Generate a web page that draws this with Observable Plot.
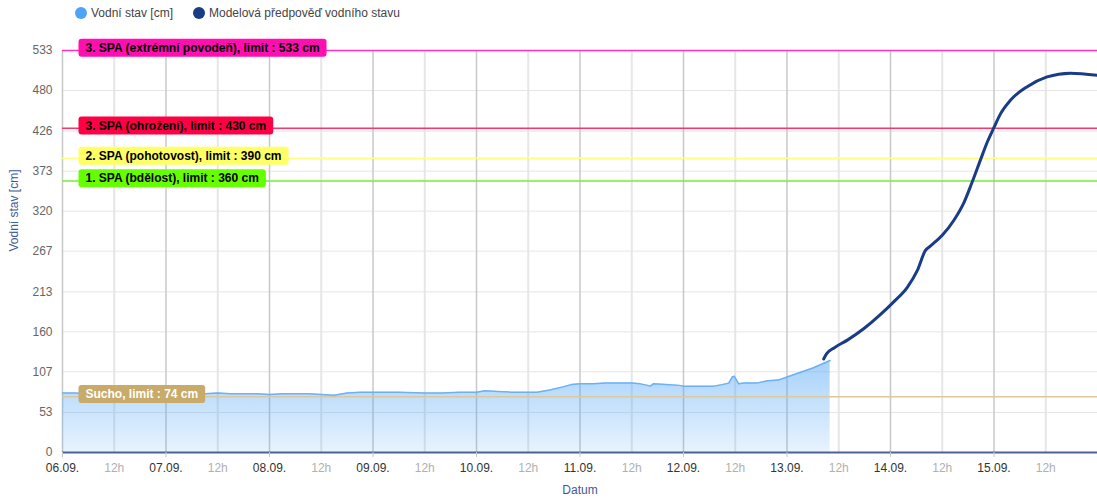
<!DOCTYPE html>
<html><head><meta charset="utf-8">
<script src="https://cdn.jsdelivr.net/npm/d3@7"></script>
<script src="https://cdn.jsdelivr.net/npm/@observablehq/plot@0.6"></script>
<style>
body{margin:0;background:#fff;font-family:"Liberation Sans",Arial,sans-serif;}
#legend{height:28px;position:relative;font-size:12px;color:#444;}
.item{position:absolute;top:6px;display:flex;align-items:center;gap:4px;white-space:nowrap;}
.dot{width:12px;height:12px;border-radius:50%;display:inline-block}
#chart svg{display:block}
</style></head><body>
<div id="legend"></div><div id="chart"></div>
<script>
// ---------- data ----------
const year = 2024;
const dayLabels = ["06.09.","07.09.","08.09.","09.09.","10.09.","11.09.","12.09.","13.09.","14.09.","15.09."];
const xDomainLabels = ["06.09.","16.09."];
const halfDayLabel = "12h";
const yTicks = [0,53,107,160,213,267,320,373,426,480,533];

// observed water level: hours since 06.09. 00:00, value in cm
const obsHours  = [0,3,6,9,12,15,18,21,24,27,30,33,36,39,42,45,48,51,54,57,60,63,66,69,72,78,84,88,92,96,98,101,104,108,110,113,116,118,120,123,126,129,132,134,135.7,136.3,137,140,143,144,148,151,153,154.5,155.3,155.8,156.3,156.8,158,161,163.5,166,168,171,174,176,178];
const obsValues = [79,79,78,78,78,77,78,77,77,76,77,78,79,78,78,78,77,78,78,78,77,76,79,80,80,80,79,79,80,80,82,81,80,80,80,83,87,90,91,91,92,92,92,91,89,88,91,90,89,88,88,88,90,92,100,101,96,91,92,92,95,96,100,106,112,117,122];

// model forecast
const fcHours  = [176.5,177.2,179,182,186,189.7,192.8,195.9,198.2,200.1,201.3,204,206.7,209,210.9,212.8,214.4,216,217.5,219.8,223.7,228.3,233.7,240];
const fcValues = [124,131,139,149,165,183,200,219,241,268,274,288,308,331,358,387,411,431,449,467,485,498,503,500];

// limits
const limitValues = [533,430,390,360,74];
const limitLabels = ["3. SPA (extrémní povodeň), limit : 533 cm","3. SPA (ohrožení), limit : 430 cm","2. SPA (pohotovost), limit : 390 cm","1. SPA (bdělost), limit : 360 cm","Sucho, limit : 74 cm"];

// ---------- styles ----------
const limitLineColors = ["#ff33b4","#ff3366","#ffff80","#77ee33","#dcc89c"];
const limitBgColors   = ["#ff0fb0","#ff0044","#ffff66","#66ff00","#c8aa6a"];
const limitTextColors = ["#000","#000","#000","#000","#fff"];
const obsColor = "#4da3f5", fcColor = "#183c86";

// ---------- build ----------
const parseDay = s => { const [d,m] = s.split(".").map(Number); return new Date(year, m-1, d); };
const start = parseDay(dayLabels[0]);
const at = h => new Date(start.getTime() + h*3600e3);
const obs = obsHours.map((h,i)=>({date: at(h), value: obsValues[i]}));
const fc  = fcHours.map((h,i)=>({date: at(h), value: fcValues[i]}));
const days = dayLabels.map(parseDay);
const halfDays = days.map(d => new Date(d.getTime() + 12*3600e3));
const limits = limitValues.map((v,i)=>({value:v, label:limitLabels[i], line:limitLineColors[i], bg:limitBgColors[i], txt:limitTextColors[i]}));
const fmtDay = d3.timeFormat("%d.%m.");

// legend
const legend = document.getElementById("legend");
[["Vodní stav [cm]", obsColor, 75],["Modelová předpověď vodního stavu", fcColor, 193]].forEach(([t,c,x])=>{
  const it = document.createElement("div"); it.className="item"; it.style.left=x+"px";
  it.innerHTML = `<span class="dot" style="background:${c}"></span><span>${t}</span>`;
  legend.appendChild(it);
});

const defs = () => {
  const g = d3.create("svg:defs");
  const lg = g.append("linearGradient").attr("id","obsFill").attr("x1",0).attr("y1",0).attr("x2",0).attr("y2",1);
  lg.append("stop").attr("offset","0%").attr("stop-color",obsColor).attr("stop-opacity",0.5);
  lg.append("stop").attr("offset","100%").attr("stop-color",obsColor).attr("stop-opacity",0.13);
  return g.node();
};

const svg = Plot.plot({
  width: 1097, height: 472,
  marginLeft: 62, marginRight: 0, marginTop: 22, marginBottom: 48,
  style: {fontFamily: "'Liberation Sans', Arial, sans-serif", fontSize: "12px", background: "#fff"},
  x: {type: "time", domain: xDomainLabels.map(parseDay)},
  y: {domain: [0, 533]},
  color: {type: "identity"},
  marks: [
    defs,
    Plot.ruleY(yTicks, {stroke: "#e6e6e6", strokeWidth: 1}),
    Plot.ruleX(halfDays, {stroke: "#e6e6e6", strokeWidth: 2}),
    Plot.ruleX(days, {stroke: "#c8c8c8", strokeWidth: 1.5}),
    Plot.areaY(obs, {x: "date", y: "value", fill: "url(#obsFill)"}),
    Plot.lineY(obs, {x: "date", y: "value", stroke: "#6cb0f7", strokeWidth: 1.5}),
    Plot.ruleY(limits, {y: "value", stroke: "line", strokeWidth: 1.5}),
    Plot.lineY(fc, {x: "date", y: "value", stroke: fcColor, strokeWidth: 3, curve: "monotone-x"}),
    Plot.ruleY([0], {stroke: "#4d6396", strokeWidth: 2}),
    Plot.axisY({ticks: yTicks, tickSize: 0, tickPadding: 10, fill: "#666", label: null, fontSize: 12}),
    Plot.axisX({ticks: days, tickFormat: fmtDay, tickSize: 5, tickPadding: 6, stroke: "#c8c8c8", fill: "#333", label: null, fontSize: 12}),
    Plot.axisX({ticks: halfDays, tickFormat: () => halfDayLabel, tickSize: 0, tickPadding: 11, fill: "#b0b0b0", label: null, fontSize: 12}),
    Plot.text(limits, {y: "value", text: "label", frameAnchor: "left", dx: 23, dy: -2.5, textAnchor: "start", fill: "txt", fontWeight: "bold", fontSize: 12}),
    Plot.text(["Vodní stav [cm]"], {frameAnchor: "left", dx: -48, rotate: -90, fill: "#3d5a99", fontSize: 12}),
    Plot.text(["Datum"], {frameAnchor: "bottom", dy: 41, fill: "#3d5a99", fontSize: 12})
  ]
});
document.getElementById("chart").appendChild(svg);

// label boxes behind limit labels
svg.querySelectorAll("text").forEach(t => {
  const i = limitLabels.indexOf(t.textContent);
  if (i < 0) return;
  const bb = t.getBBox();
  const r = document.createElementNS("http://www.w3.org/2000/svg","rect");
  r.setAttribute("x", bb.x - 7); r.setAttribute("y", bb.y - 2);
  r.setAttribute("width", bb.width + 14); r.setAttribute("height", bb.height + 4);
  r.setAttribute("rx", 3); r.setAttribute("fill", limits[i].bg);
  const tr = t.getAttribute("transform"); if (tr) r.setAttribute("transform", tr);
  t.parentNode.insertBefore(r, t);
});
</script></body></html>
